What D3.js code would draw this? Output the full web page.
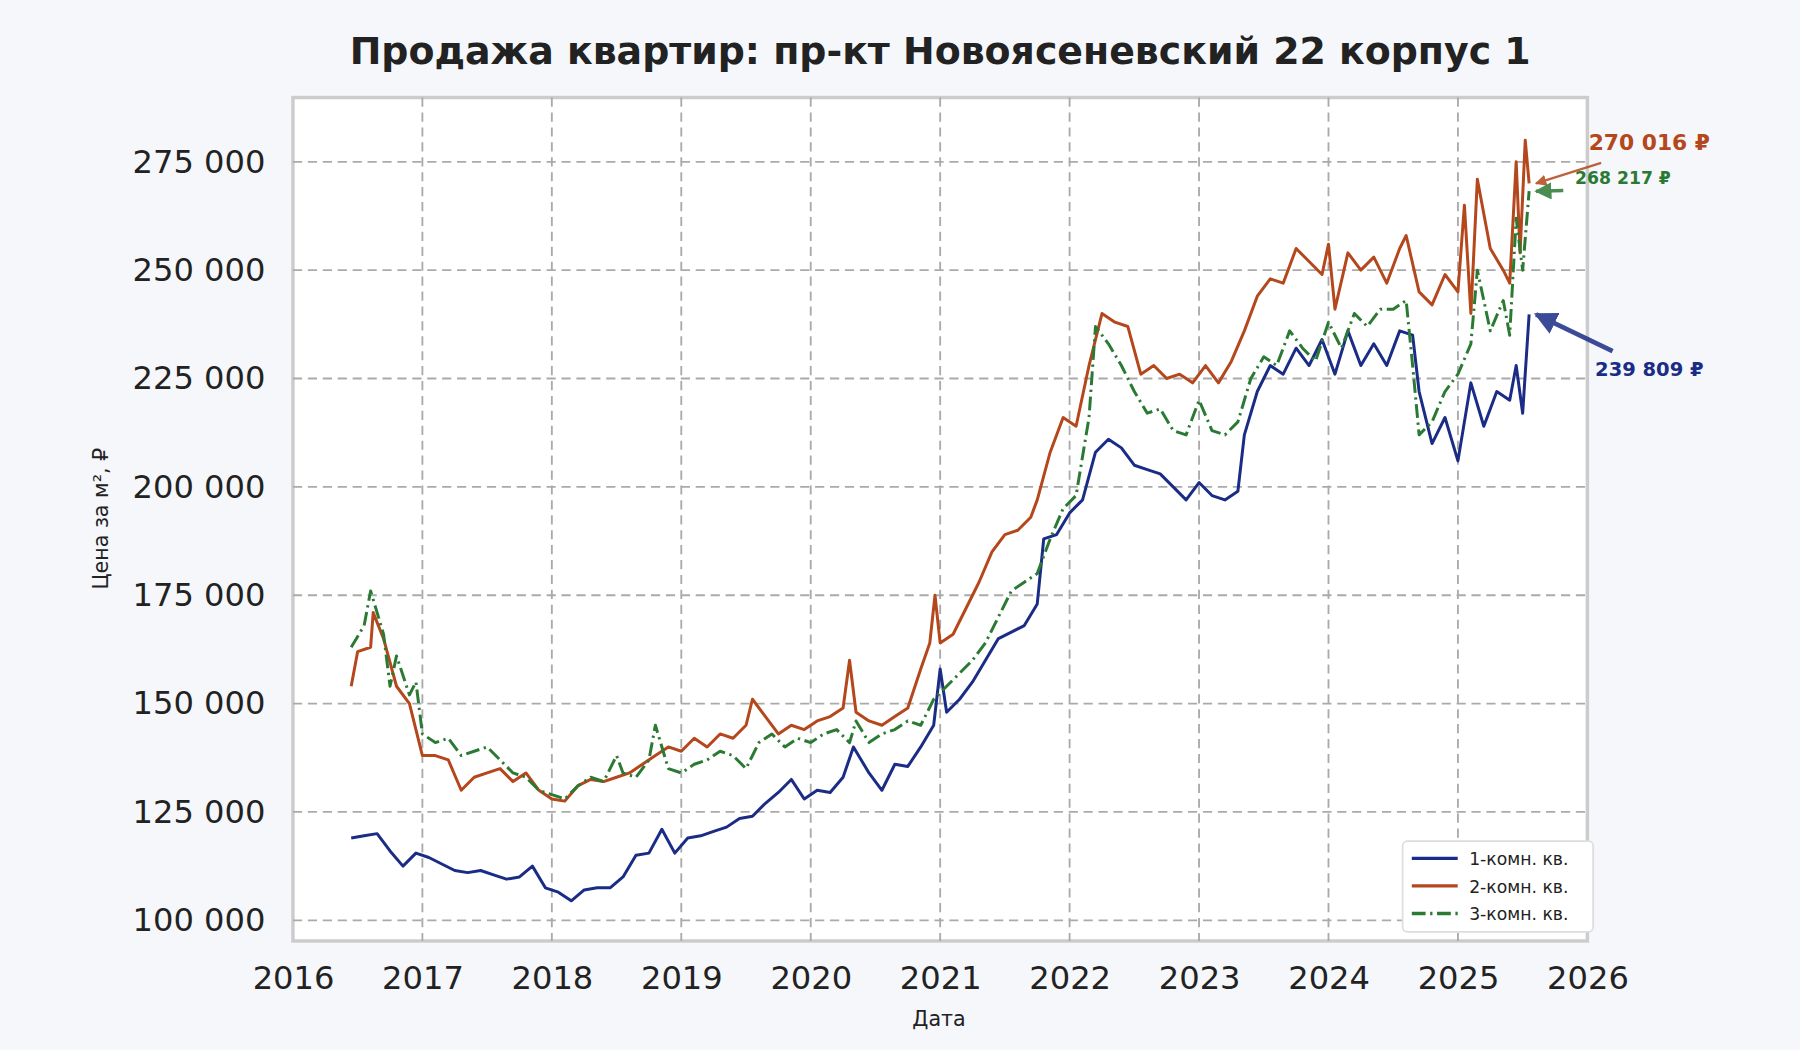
<!DOCTYPE html>
<html>
<head>
<meta charset="utf-8">
<style>
  body { margin:0; background:#f5f7fb; }
  text { font-family: "DejaVu Sans", sans-serif; fill:#222; }
</style>
</head>
<body>
<script src="https://cdn.jsdelivr.net/npm/d3@7"></script>
<script>
// data (decimal years, price per m²)
var dates1 = [2016.45,2016.55,2016.65,2016.75,2016.85,2016.95,2017.05,2017.15,2017.25,2017.35,2017.45,2017.55,2017.65,2017.75,2017.85,2017.95,2018.05,2018.15,2018.25,2018.35,2018.45,2018.55,2018.65,2018.75,2018.85,2018.95,2019.05,2019.15,2019.25,2019.35,2019.45,2019.55,2019.65,2019.75,2019.85,2019.95,2020.05,2020.15,2020.25,2020.33,2020.45,2020.55,2020.65,2020.75,2020.85,2020.95,2021.0,2021.05,2021.15,2021.25,2021.35,2021.45,2021.55,2021.65,2021.75,2021.8,2021.9,2022.0,2022.1,2022.2,2022.3,2022.4,2022.5,2022.6,2022.7,2022.8,2022.9,2023.0,2023.1,2023.2,2023.3,2023.35,2023.45,2023.55,2023.65,2023.75,2023.85,2023.95,2024.05,2024.15,2024.25,2024.35,2024.45,2024.55,2024.65,2024.7,2024.8,2024.9,2025.0,2025.1,2025.2,2025.3,2025.4,2025.45,2025.5,2025.55];
var values1 = [119000,119500,120000,116000,112500,115500,114500,113000,111500,111000,111500,110500,109500,110000,112500,107500,106500,104500,107000,107500,107500,110000,115000,115500,121000,115500,119000,119500,120500,121500,123500,124000,127000,129500,132500,128000,130000,129500,133000,140000,134000,130000,136000,135500,140000,145000,158000,148000,151000,155000,160000,165000,166500,168000,173000,188000,189000,194000,197000,208000,211000,209000,205000,204000,203000,200000,197000,201000,198000,197000,199000,212000,222000,228000,226000,232000,228000,234000,226000,236000,228000,233000,228000,236000,235000,222000,210000,216000,206000,224000,214000,222000,220000,228000,217000,239809];

var dates2 = [2016.45,2016.5,2016.6,2016.62,2016.7,2016.8,2016.9,2016.95,2017.0,2017.1,2017.2,2017.3,2017.4,2017.5,2017.6,2017.7,2017.8,2017.9,2018.0,2018.1,2018.2,2018.3,2018.4,2018.5,2018.6,2018.7,2018.8,2018.9,2019.0,2019.1,2019.2,2019.3,2019.4,2019.5,2019.55,2019.65,2019.75,2019.85,2019.95,2020.05,2020.15,2020.25,2020.3,2020.35,2020.45,2020.55,2020.65,2020.75,2020.85,2020.92,2020.96,2021.0,2021.1,2021.2,2021.3,2021.4,2021.5,2021.6,2021.7,2021.75,2021.85,2021.95,2022.05,2022.15,2022.25,2022.35,2022.45,2022.55,2022.65,2022.75,2022.85,2022.95,2023.05,2023.15,2023.25,2023.35,2023.45,2023.55,2023.65,2023.75,2023.85,2023.95,2024.0,2024.05,2024.15,2024.25,2024.35,2024.45,2024.55,2024.6,2024.7,2024.8,2024.9,2025.0,2025.05,2025.1,2025.15,2025.25,2025.35,2025.4,2025.45,2025.48,2025.52,2025.55];
var values2 = [154000,162000,163000,171000,165000,154000,150000,144000,138000,138000,137000,130000,133000,134000,135000,132000,134000,130000,128000,127500,131000,132500,132000,133000,134000,136000,138000,140000,139000,142000,140000,143000,142000,145000,151000,147000,143000,145000,144000,146000,147000,149000,160000,148000,146000,145000,147000,149000,158000,164000,175000,164000,166000,172000,178000,185000,189000,190000,193000,197000,208000,216000,214000,228000,240000,238000,237000,226000,228000,225000,226000,224000,228000,224000,229000,236000,244000,248000,247000,255000,252000,249000,256000,241000,254000,250000,253000,247000,255000,258000,245000,242000,249000,245000,265000,240000,271000,255000,250000,247000,275000,254000,280000,270016];

var dates3 = [2016.45,2016.55,2016.6,2016.7,2016.75,2016.8,2016.9,2016.95,2017.0,2017.1,2017.2,2017.3,2017.4,2017.5,2017.6,2017.7,2017.8,2017.9,2018.0,2018.1,2018.2,2018.3,2018.4,2018.5,2018.55,2018.65,2018.75,2018.8,2018.9,2019.0,2019.1,2019.2,2019.3,2019.4,2019.5,2019.6,2019.7,2019.8,2019.9,2020.0,2020.1,2020.2,2020.3,2020.35,2020.45,2020.55,2020.65,2020.75,2020.85,2020.95,2021.05,2021.15,2021.25,2021.35,2021.45,2021.55,2021.65,2021.75,2021.85,2021.95,2022.05,2022.15,2022.2,2022.3,2022.4,2022.5,2022.6,2022.7,2022.8,2022.9,2023.0,2023.1,2023.2,2023.3,2023.4,2023.5,2023.6,2023.7,2023.8,2023.9,2024.0,2024.1,2024.2,2024.3,2024.4,2024.5,2024.6,2024.65,2024.7,2024.8,2024.9,2025.0,2025.1,2025.15,2025.25,2025.35,2025.4,2025.45,2025.5,2025.55];
var values3 = [163000,168000,176000,166000,154000,161000,152000,155000,143000,141000,142000,138000,139000,140000,137000,134000,133000,130000,129000,128000,131000,133000,132000,138000,134000,133000,137000,145000,135000,134000,136000,137000,139000,138000,135000,141000,143000,140000,142000,141000,143000,144000,141000,146000,141000,143000,144000,146000,145000,151000,154000,157000,160000,164000,170000,176000,178000,180000,188000,195000,198000,216000,237000,233000,228000,222000,217000,218000,213000,212000,220000,213000,212000,215000,225000,230000,228000,236000,232000,229000,238000,232000,240000,237000,241000,241000,243000,228000,212000,215000,222000,226000,233000,250000,236000,243000,235000,262000,250000,268217];

var seriesNames = ["1-комн. кв.", "2-комн. кв.", "3-комн. кв."];
var colors = ["#1a2c85", "#b4471b", "#2b7a33"];
var yTicks = [100000,125000,150000,175000,200000,225000,250000,275000];
var xTicks = [2016,2017,2018,2019,2020,2021,2022,2023,2024,2025,2026];

var W = 1568, H = 915;
var margin = {left:255, right:185, top:85, bottom:95};

var svg = d3.select("body").append("svg")
  .attr("width", 1800).attr("height", 1050)
  .attr("viewBox", "0 0 " + W + " " + H);

svg.append("rect").attr("width", W).attr("height", H).attr("fill", "#f5f7fb");

var x = d3.scaleLinear().domain([2016, 2026]).range([margin.left, W - margin.right]);
var y = d3.scaleLinear().domain([95230, 289830]).range([H - margin.bottom, margin.top]);

svg.append("rect")
  .attr("x", margin.left).attr("y", margin.top)
  .attr("width", x(2026) - x(2016)).attr("height", y(95230) - y(289830))
  .attr("fill", "#ffffff").attr("stroke", "#cccccc").attr("stroke-width", 3);

// grid
svg.append("g").selectAll("line").data(xTicks.slice(1, -1)).enter().append("line")
  .attr("x1", d => x(d)).attr("x2", d => x(d))
  .attr("y1", margin.top).attr("y2", H - margin.bottom)
  .attr("stroke", "#aaaaaa").attr("stroke-width", 1.6).attr("stroke-dasharray", "8,5");
svg.append("g").selectAll("line").data(yTicks).enter().append("line")
  .attr("x1", margin.left).attr("x2", W - margin.right)
  .attr("y1", d => y(d)).attr("y2", d => y(d))
  .attr("stroke", "#aaaaaa").attr("stroke-width", 1.6).attr("stroke-dasharray", "8,5");

// axes
var fmt = d => d3.format(",")(d).replace(/,/g, " ");
var yAxis = svg.append("g").attr("transform", "translate(" + (margin.left - 6) + ",0)")
  .call(d3.axisLeft(y).tickValues(yTicks).tickFormat(fmt).tickSize(0).tickPadding(18));
var xAxis = svg.append("g").attr("transform", "translate(0," + (H - margin.bottom) + ")")
  .call(d3.axisBottom(x).tickValues(xTicks).tickFormat(d3.format("d")).tickSize(0).tickPadding(22));
[xAxis, yAxis].forEach(function(a){
  a.select(".domain").remove();
  a.selectAll("text").style("font-size", "28px").style("font-family", "DejaVu Sans").attr("fill", "#2a2a2a");
});

// lines
var line = d3.line().x(d => x(d[0])).y(d => y(d[1]));
var all = [[dates1, values1], [dates2, values2], [dates3, values3]];
all.forEach(function(s, i){
  svg.append("path")
    .datum(d3.zip(s[0], s[1]))
    .attr("fill", "none")
    .attr("stroke", colors[i])
    .attr("stroke-width", 2.6)
    .attr("stroke-linejoin", "round")
    .attr("stroke-dasharray", i == 2 ? "12,4,2,4" : null)
    .attr("d", line);
});

// annotations
svg.append("defs").selectAll("marker").data(colors).enter().append("marker")
  .attr("id", (d, i) => "arr" + i)
  .attr("viewBox", "0 0 10 10").attr("refX", 9).attr("refY", 5)
  .attr("markerWidth", 5).attr("markerHeight", 5).attr("orient", "auto")
  .append("path").attr("d", "M0,0L10,5L0,10z").attr("fill", d => d);

var notes = [
  {i:1, text:"270 016 ₽", tx:1437, ty:131, fs:19, x1:1395, y1:142, w:2},
  {i:2, text:"268 217 ₽", tx:1414, ty:160, fs:15, x1:1362, y1:166, w:3},
  {i:0, text:"239 809 ₽", tx:1437, ty:328, fs:17, x1:1405, y1:306, w:4}
];
var lastVals = [values1[values1.length - 1], values2[values2.length - 1], values3[values3.length - 1]];
var lastDates = [dates1[dates1.length - 1], dates2[dates2.length - 1], dates3[dates3.length - 1]];
notes.forEach(function(n){
  svg.append("line")
    .attr("x1", n.x1).attr("y1", n.y1)
    .attr("x2", x(lastDates[n.i]) + 6).attr("y2", y(lastVals[n.i]))
    .attr("stroke", colors[n.i]).attr("stroke-width", n.w).attr("opacity", 0.85)
    .attr("marker-end", "url(#arr" + n.i + ")");
  svg.append("text").attr("x", n.tx).attr("y", n.ty).attr("text-anchor", "middle")
    .style("font-size", n.fs + "px").style("font-weight", "bold")
    .style("fill", colors[n.i]).text(n.text);
});

// titles
svg.append("text").attr("x", 819).attr("y", 56).attr("text-anchor", "middle")
  .style("font-size", "33px").style("font-weight", "bold")
  .text("Продажа квартир: пр-кт Новоясеневский 22 корпус 1");
svg.append("text").attr("x", 818).attr("y", 894).attr("text-anchor", "middle")
  .style("font-size", "18px").text("Дата");
svg.append("text").attr("transform", "translate(94,452) rotate(-90)").attr("text-anchor", "middle")
  .style("font-size", "18px").text("Цена за м², ₽");

// legend
var lg = svg.append("g").attr("transform", "translate(1222,733)");
lg.append("rect").attr("width", 166).attr("height", 79).attr("rx", 4)
  .attr("fill", "#ffffff").attr("stroke", "#dddddd").attr("stroke-width", 1.5);
seriesNames.forEach(function(name, i){
  var g = lg.append("g").attr("transform", "translate(0," + (15 + i * 24) + ")");
  g.append("line").attr("x1", 8).attr("x2", 48).attr("y1", 0).attr("y2", 0)
    .attr("stroke", colors[i]).attr("stroke-width", 3)
    .attr("stroke-dasharray", i == 2 ? "12,4,2,4" : null);
  g.append("text").attr("x", 58).attr("y", 6).style("font-size", "15px").text(name);
});
</script>
</body>
</html>
